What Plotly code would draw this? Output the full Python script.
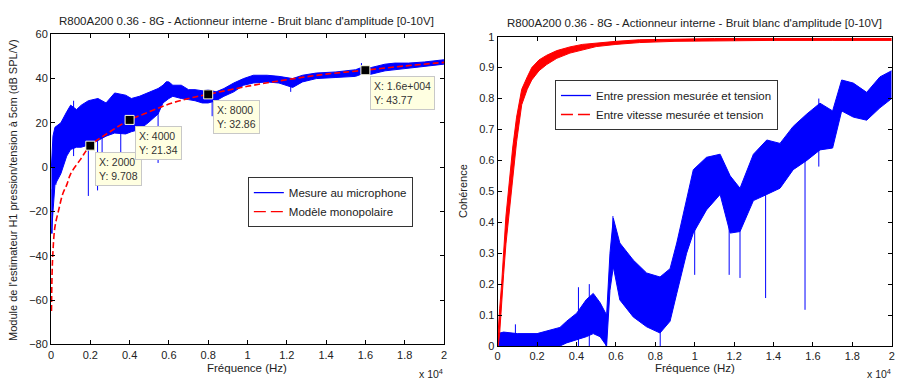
import plotly.graph_objects as go

# ---------------- data (left panel, Hz / dB) ----------------
mic_f = [20, 100, 200, 500, 800, 1000, 1300, 1540, 1900, 2390, 2800, 3240, 3800, 4090, 4500,
         4940, 5450, 5700, 5870, 6000, 6200, 6630, 7000, 7330, 7700, 8000, 8400, 8800, 9300,
         9800, 10300, 11000, 11600, 12300, 12800, 13500, 14500, 15500, 15800, 16300, 17000,
         17500, 18200, 19000, 20000]
mic_hi = [0, 14, 18, 20, 25, 28, 26, 28, 30, 31, 29, 33.5, 32.5, 31, 32,
          33.5, 35.5, 37, 38.6, 38.5, 37, 37, 35, 35, 34.5, 35, 34, 35.5, 38,
          40, 41.5, 41.5, 41, 40, 41.5, 42.5, 43, 44, 45, 45, 46.5,
          47, 47, 47.5, 48.5]
mic_lo = [-30, -20, -8, -3, 5, 8, 9, 9, 10, 12, 14, 15.4, 15, 16, 17,
          20, 24, 29, 30.3, 31, 32, 31, 30.5, 30, 29, 29, 30, 32, 34,
          37, 38, 38.5, 38, 36, 38.5, 40, 40.5, 41, 42, 42, 43.5,
          44, 45, 45.5, 46.5]
mic_spike_f = [60, 250, 1150, 1900, 2370, 2600, 3550, 4450, 5450, 8200, 12200, 15800]
mic_spike_top = [-10, 10, 30, 20, 20, 20, 25, 28, 28, 33, 40, 44]
mic_spike_bot = [-30, -8, 5, -13, -10.5, 0, 4, 6, 1.9, 23, 34, 47]

model_f = [25, 50, 100, 200, 400, 600, 800, 1000, 1500, 2000, 3000, 4000, 5000, 6000,
           7000, 8000, 10000, 12000, 14000, 16000, 18000, 20000]
model_db = [-65, -50, -38, -27, -19, -12, -8, -3, 3.5, 9.7, 16, 21.3, 25, 28.5,
            31, 32.9, 36.5, 39.5, 42, 43.8, 45.7, 47.3]

tip_f = [2000, 4000, 8000, 16000]
tip_db = [9.708, 21.34, 32.86, 43.77]
tip_x_text = ["2000", "4000", "8000", "1.6e+004"]
tip_y_text = ["9.708", "21.34", "32.86", "43.77"]

# ---------------- data (right panel, coherence) ----------------
coh_p_f = [0, 300, 1000, 2000, 3160, 3500, 4010, 4500, 4850, 5200, 5530, 5700, 5870, 6200,
           6880, 7560, 8240, 8750, 9090, 9590, 9930, 10600, 11290, 11800, 12300, 12980,
           13660, 14330, 15000, 15690, 16360, 17000, 17460, 18050, 18730, 19400, 20000]
coh_p_hi = [0.04, 0.045, 0.04, 0.04, 0.06, 0.08, 0.106, 0.15, 0.17, 0.14, 0.10, 0.30, 0.413,
            0.333, 0.278, 0.236, 0.223, 0.25, 0.333, 0.472, 0.57, 0.61, 0.62, 0.55, 0.51,
            0.62, 0.666, 0.655, 0.71, 0.75, 0.785, 0.76, 0.86, 0.85, 0.82, 0.87, 0.89]
coh_p_lo = [0.0, 0.0, 0.0, 0.0, 0.0, 0.01, 0.02, 0.03, 0.04, 0.03, 0.0, 0.18, 0.256,
            0.149, 0.094, 0.062, 0.042, 0.08, 0.17, 0.30, 0.365, 0.44, 0.49, 0.365, 0.37,
            0.47, 0.49, 0.51, 0.57, 0.60, 0.634, 0.64, 0.76, 0.74, 0.73, 0.77, 0.80]
coh_p_spike_f = [900, 4100, 4650, 5500, 5850, 8250, 10000, 11750, 12300, 13600, 15600, 16300]
coh_p_spike_top = [0.07, 0.19, 0.20, 0.10, 0.42, 0.10, 0.45, 0.45, 0.45, 0.55, 0.62, 0.80]
coh_p_spike_bot = [0.0, 0.0, 0.0, 0.0, 0.25, 0.0, 0.23, 0.23, 0.22, 0.155, 0.117, 0.58]

coh_v_f = [0, 30, 100, 200, 300, 420, 590, 760, 960, 1220, 1500, 1730, 2100, 2490, 3000,
           3670, 4300, 5000, 6000, 7200, 9000, 11000, 14000, 17000, 20000]
coh_v_hi = [0.02, 0.06, 0.12, 0.20, 0.31, 0.42, 0.53, 0.64, 0.74, 0.83, 0.87, 0.90, 0.925,
            0.94, 0.955, 0.967, 0.975, 0.98, 0.985, 0.99, 0.992, 0.994, 0.994, 0.994, 0.994]
coh_v_lo = [0.0, 0.0, 0.04, 0.12, 0.23, 0.33, 0.44, 0.55, 0.66, 0.78, 0.83, 0.86, 0.89,
            0.91, 0.93, 0.947, 0.958, 0.968, 0.975, 0.981, 0.985, 0.987, 0.988, 0.988, 0.988]

x_tick_vals = [0, 2000, 4000, 6000, 8000, 10000, 12000, 14000, 16000, 18000, 20000]
x_tick_text = ["0", "0.2", "0.4", "0.6", "0.8", "1", "1.2", "1.4", "1.6", "1.8", "2"]
y1_ticks = [-80, -60, -40, -20, 0, 20, 40, 60]
y2_ticks = [0, 0.1, 0.2, 0.3, 0.4, 0.5, 0.6, 0.7, 0.8, 0.9, 1]
y2_text = ["0", "0.1", "0.2", "0.3", "0.4", "0.5", "0.6", "0.7", "0.8", "0.9", "1"]

title_txt = "R800A200 0.36 - 8G - Actionneur interne - Bruit blanc d'amplitude [0-10V]"

BLUE = "#0000FF"
RED = "#FF0000"
FONT = "Liberation Sans"


def spikes(fs, tops, bots):
    xs, ys = [], []
    for f, t, b in zip(fs, tops, bots):
        xs += [f, f, None]
        ys += [t, b, None]
    return xs, ys


def band(fig, xs, lo, hi, color, xa, ya):
    fig.add_trace(go.Scatter(x=xs, y=lo, mode="lines", line=dict(color=color, width=1),
                             showlegend=False, xaxis=xa, yaxis=ya, hoverinfo="skip"))
    fig.add_trace(go.Scatter(x=xs, y=hi, mode="lines", line=dict(color=color, width=1),
                             fill="tonexty", fillcolor=color, showlegend=False,
                             xaxis=xa, yaxis=ya, hoverinfo="skip"))


fig = go.Figure()

# ---- left panel ----
band(fig, mic_f, mic_lo, mic_hi, BLUE, "x", "y")
sx, sy = spikes(mic_spike_f, mic_spike_top, mic_spike_bot)
fig.add_trace(go.Scatter(x=sx, y=sy, mode="lines", line=dict(color=BLUE, width=1),
                         showlegend=False, xaxis="x", yaxis="y", hoverinfo="skip"))
fig.add_trace(go.Scatter(x=model_f, y=model_db, mode="lines", line_shape="spline",
                         line=dict(color=RED, width=1.6, dash="6px,3px"),
                         showlegend=False, xaxis="x", yaxis="y"))
fig.add_trace(go.Scatter(x=tip_f, y=tip_db, mode="markers",
                         marker=dict(symbol="square", size=9, color="black",
                                     line=dict(color="#FFFFE0", width=1)),
                         showlegend=False, xaxis="x", yaxis="y"))
# legend entries (left)
fig.add_trace(go.Scatter(x=[None], y=[None], mode="lines", line=dict(color=BLUE, width=1.3),
                         name="Mesure au microphone", legend="legend", xaxis="x", yaxis="y"))
fig.add_trace(go.Scatter(x=[None], y=[None], mode="lines",
                         line=dict(color=RED, width=1.3, dash="12px,5px"),
                         name="Modèle monopolaire", legend="legend", xaxis="x", yaxis="y"))

# ---- right panel ----
band(fig, coh_p_f, coh_p_lo, coh_p_hi, BLUE, "x2", "y2")
sx2, sy2 = spikes(coh_p_spike_f, coh_p_spike_top, coh_p_spike_bot)
fig.add_trace(go.Scatter(x=sx2, y=sy2, mode="lines", line=dict(color=BLUE, width=1),
                         showlegend=False, xaxis="x2", yaxis="y2", hoverinfo="skip"))
band(fig, coh_v_f, coh_v_lo, coh_v_hi, RED, "x2", "y2")
fig.add_trace(go.Scatter(x=[None], y=[None], mode="lines", line=dict(color=BLUE, width=1.3),
                         name="Entre pression mesurée et tension", legend="legend2",
                         xaxis="x2", yaxis="y2"))
fig.add_trace(go.Scatter(x=[None], y=[None], mode="lines",
                         line=dict(color=RED, width=1.3, dash="12px,5px"),
                         name="Entre vitesse mesurée et tension", legend="legend2",
                         xaxis="x2", yaxis="y2"))

axis_common = dict(showline=True, linecolor="black", linewidth=1, mirror="ticks",
                   ticks="inside", ticklen=4, tickcolor="black", showgrid=False,
                   zeroline=False, automargin=False,
                   tickfont=dict(family=FONT, size=11, color="#222"))

legend_common = dict(xanchor="left", yanchor="top", bgcolor="white", bordercolor="#333",
                     borderwidth=1, font=dict(family=FONT, size=11.5, color="#222"),
                     tracegroupgap=0, itemwidth=30, traceorder="normal")

fig.update_layout(
    width=898, height=381,
    margin=dict(l=0, r=0, t=0, b=0, autoexpand=False),
    paper_bgcolor="white", plot_bgcolor="white",
    font=dict(family=FONT, size=11, color="#222"),
    xaxis=dict(domain=[0.0568, 0.4944], range=[0, 20000], tickvals=x_tick_vals,
               ticktext=x_tick_text, anchor="y", **axis_common),
    yaxis=dict(domain=[0.0963, 0.910], range=[-80, 60], tickvals=y1_ticks, anchor="x",
               **axis_common),
    xaxis2=dict(domain=[0.5542, 0.993], range=[0, 20000], tickvals=x_tick_vals,
                ticktext=x_tick_text, anchor="y2", **axis_common),
    yaxis2=dict(domain=[0.0919, 0.9037], range=[0, 1], tickvals=y2_ticks, ticktext=y2_text,
                anchor="x2", **axis_common),
    legend=dict(x=0.276, y=0.535, **legend_common),
    legend2=dict(x=0.618, y=0.79, **legend_common),
    showlegend=True,
)

ann = []
# titles
ann.append(dict(text=title_txt, x=0.275, y=1 - 21 / 381, xref="paper", yref="paper",
                showarrow=False, font=dict(size=11.5), xanchor="center", yanchor="middle"))
ann.append(dict(text=title_txt, x=0.7735, y=1 - 23 / 381, xref="paper", yref="paper",
                showarrow=False, font=dict(size=11.5), xanchor="center", yanchor="middle"))
# axis titles
for xc in (0.275, 0.7735):
    ann.append(dict(text="Fréquence (Hz)", x=xc, y=1 - 368 / 381, xref="paper", yref="paper",
                    showarrow=False, font=dict(size=11.5), xanchor="center", yanchor="middle"))
ann.append(dict(text="x 10<sup>4</sup>", x=445 / 898, y=1 - 373 / 381, xref="paper",
                yref="paper", showarrow=False, font=dict(size=10.5), xanchor="right",
                yanchor="middle"))
ann.append(dict(text="x 10<sup>4</sup>", x=893 / 898, y=1 - 373 / 381, xref="paper",
                yref="paper", showarrow=False, font=dict(size=10.5), xanchor="right",
                yanchor="middle"))
ann.append(dict(text="Module de l'estimateur H1 pression/tension à 5cm (dB SPL/V)",
                x=13 / 898, y=1 - 190 / 381, xref="paper", yref="paper", showarrow=False,
                textangle=-90, font=dict(size=11), xanchor="center", yanchor="middle"))
ann.append(dict(text="Cohérence", x=463 / 898, y=1 - 191 / 381, xref="paper", yref="paper",
                showarrow=False, textangle=-90, font=dict(size=11), xanchor="center",
                yanchor="middle"))
# data tips
for f, v, xt, yt in zip(tip_f, tip_db, tip_x_text, tip_y_text):
    ann.append(dict(text=f"X: {xt}<br>Y: {yt}", x=f, y=v, xref="x", yref="y",
                    showarrow=False, xanchor="left", yanchor="top", xshift=5, yshift=-6,
                    align="left", bgcolor="#FFFFE1", bordercolor="#C8C8C8", borderwidth=1,
                    borderpad=3, font=dict(size=10.5, color="#333")))
fig.update_layout(annotations=ann)

fig.write_html("out.html", config={"displayModeBar": False},
               post_script="document.body.style.margin='0';document.body.style.overflow='hidden';")
